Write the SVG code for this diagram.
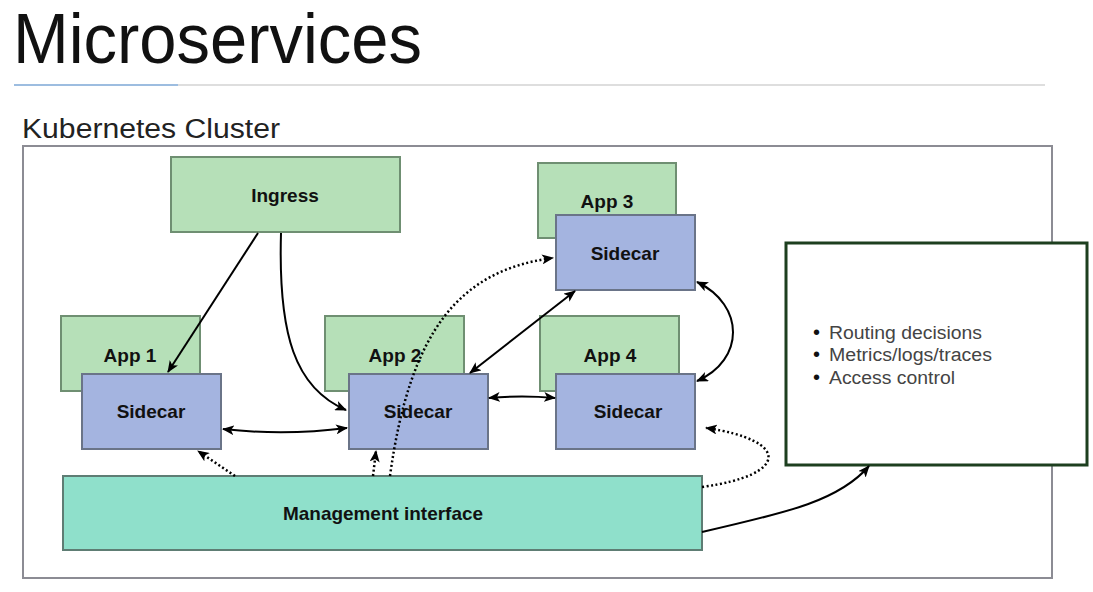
<svg xmlns="http://www.w3.org/2000/svg" width="1093" height="592" viewBox="0 0 1093 592">
<defs>
<marker id="a" viewBox="0 0 12 10" refX="11" refY="5" markerWidth="12" markerHeight="10" orient="auto-start-reverse" markerUnits="userSpaceOnUse">
<path d="M0,0 L12,5 L0,10 L3,5 Z" fill="#000"/>
</marker>
</defs>
<style>
.app{fill:#b6e0b8;stroke:#6f8f72;stroke-width:2}
.sc{fill:#a4b4e0;stroke:#6a7488;stroke-width:2}
.lbl{font-family:"Liberation Sans",Arial,sans-serif;font-weight:bold;font-size:19px;fill:#111;text-anchor:middle}
.c{fill:none;stroke:#000;stroke-width:2}
.d{fill:none;stroke:#000;stroke-width:2.5;stroke-dasharray:2 2.5}
.bul{font-family:"Liberation Sans",Arial,sans-serif;font-size:18px;fill:#444}
.dot{font-family:"Liberation Sans",Arial,sans-serif;font-size:20px;fill:#111}
</style>
<rect width="1093" height="592" fill="#fff"/>
<text x="13" y="63" font-family="'Liberation Sans',Arial,sans-serif" font-size="70" fill="#111" textLength="409" lengthAdjust="spacingAndGlyphs">Microservices</text>
<line x1="178" y1="85" x2="1045" y2="85" stroke="#dedede" stroke-width="2"/>
<line x1="14" y1="85" x2="178" y2="85" stroke="#9dbde0" stroke-width="2"/>
<text x="22" y="138" font-family="'Liberation Sans',Arial,sans-serif" font-size="27" fill="#222" textLength="258" lengthAdjust="spacingAndGlyphs">Kubernetes Cluster</text>
<rect id="cluster" x="23" y="146" width="1029" height="432" fill="#fff" stroke="#8c8c94" stroke-width="2"/>
<g id="ingress"><rect class="app" x="171" y="157" width="229" height="75"/><text class="lbl" x="285" y="202">Ingress</text></g>
<g id="app3"><rect class="app" x="538" y="163" width="138" height="75"/><text class="lbl" x="607" y="208">App 3</text></g>
<g id="sidecar3"><rect class="sc" x="556" y="215" width="139" height="75"/><text class="lbl" x="625" y="260">Sidecar</text></g>
<g id="app1"><rect class="app" x="61" y="316" width="139" height="75"/><text class="lbl" x="130" y="362">App 1</text></g>
<g id="sidecar1"><rect class="sc" x="82" y="374" width="139" height="75"/><text class="lbl" x="151" y="418">Sidecar</text></g>
<g id="app2"><rect class="app" x="325" y="316" width="139" height="75"/><text class="lbl" x="395" y="362">App 2</text></g>
<g id="sidecar2"><rect class="sc" x="349" y="374" width="139" height="75"/><text class="lbl" x="418" y="418">Sidecar</text></g>
<g id="app4"><rect class="app" x="540" y="316" width="139" height="75"/><text class="lbl" x="610" y="362">App 4</text></g>
<g id="sidecar4"><rect class="sc" x="556" y="374" width="139" height="75"/><text class="lbl" x="628" y="418">Sidecar</text></g>
<g id="mgmt"><rect x="63" y="476" width="639" height="74" fill="#8fe0cb" stroke="#5e7d74" stroke-width="2"/><text class="lbl" x="383" y="520" textLength="200" lengthAdjust="spacingAndGlyphs">Management interface</text></g>
<g id="info"><rect x="786" y="243" width="301" height="222" fill="#fff" stroke="#1d3f1f" stroke-width="3"/>
<text class="dot" x="813" y="339">•</text><text class="bul" x="829" y="339" textLength="153" lengthAdjust="spacingAndGlyphs">Routing decisions</text>
<text class="dot" x="813" y="361">•</text><text class="bul" x="829" y="361" textLength="163" lengthAdjust="spacingAndGlyphs">Metrics/logs/traces</text>
<text class="dot" x="813" y="384">•</text><text class="bul" x="829" y="384" textLength="126" lengthAdjust="spacingAndGlyphs">Access control</text></g>
<g id="connectors">
<path class="c" d="M258,233 L168,372" marker-end="url(#a)"/>
<path class="c" d="M281,233 C278,335 295,388 346,410" marker-end="url(#a)"/>
<path class="c" d="M223,429 Q285,436 347,428" marker-start="url(#a)" marker-end="url(#a)"/>
<path class="c" d="M470,373 L575,291" marker-start="url(#a)" marker-end="url(#a)"/>
<path class="c" d="M489,398 Q522,395 555,398" marker-start="url(#a)" marker-end="url(#a)"/>
<path class="c" d="M697,282 C745,305 745,360 697,381" marker-start="url(#a)" marker-end="url(#a)"/>
<path class="c" d="M702,532 C790,512 840,500 869,466" marker-end="url(#a)"/>
<path class="d" d="M390,476 C410,330 460,270 553,258" marker-end="url(#a)"/>
<path class="d" d="M373,476 L376,451" marker-end="url(#a)"/>
<path class="d" d="M235,476 L198,451" marker-end="url(#a)"/>
<path class="d" d="M702,487 C790,475 790,440 706,428" marker-end="url(#a)"/>
</g>
</svg>
